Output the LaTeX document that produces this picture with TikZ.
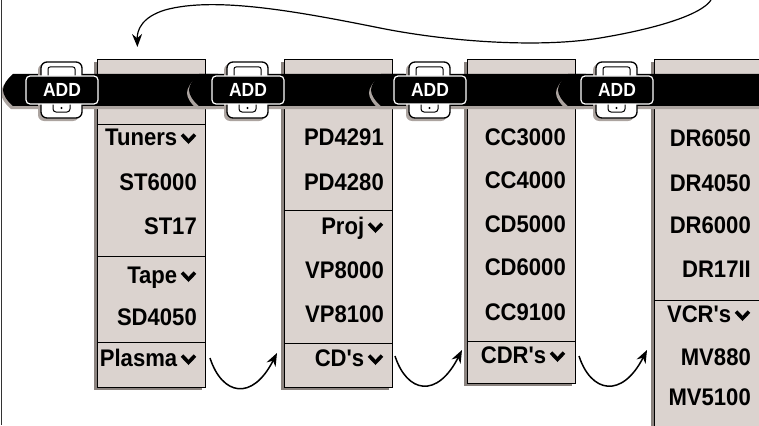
\documentclass[tikz,border=0pt]{standalone}
\usepackage{fontspec}
\newfontfamily\panelfont{Liberation Sans}[FakeStretch=0.92]
\usetikzlibrary{arrows.meta,shadows}
\definecolor{panel-grey}{RGB}{219,211,207}
\definecolor{panel-shadow}{RGB}{138,130,126}
\definecolor{bar-shadow}{RGB}{172,164,160}
\newcommand{\dropmark}{\hspace{3pt}\tikz[baseline=0pt]\draw[line width=3.6pt] (0.8pt,10.4pt) -- (7.3pt,3.6pt) -- (13.8pt,10.4pt);}
\tikzset{
    panel/.style = {draw=black, line width=0.8pt, fill=panel-grey, rectangle, inner sep=0pt, anchor=north west, general shadow={shadow xshift=-3pt, shadow yshift=-2.5pt, fill=panel-shadow}},
    item/.style = {font=\panelfont\bfseries\fontsize{24}{26}\selectfont, anchor=base east, inner sep=0pt},
    divider/.style = {draw=black, line width=1pt},
    add-button/.style = {fill=black, draw=white, line width=1.2pt, rounded corners=4pt, minimum width=72pt, minimum height=28pt, inner sep=0pt, text=white, font=\panelfont\bfseries\fontsize{19}{19}\selectfont},
    flow-arrow/.style = {line width=1.5pt, -{Stealth[length=13pt, width=10pt]}},
    add-tab/.pic = {
        \fill[bar-shadow, shift={(-2,3)}] (10,74) -- (215,74) -- (215,106) -- (10,106) .. controls (4,101) and (0,95) .. (0,90) .. controls (0,85) and (4,79) .. (10,74) -- cycle;
        \fill[black] (10,74) -- (215,74) -- (215,106) -- (10,106) .. controls (4,101) and (0,95) .. (0,90) .. controls (0,85) and (4,79) .. (10,74) -- cycle;
        \fill[bar-shadow, rounded corners=6pt] (35,64) rectangle (76,121);
        \filldraw[fill=white, draw=black, line width=1.3pt, rounded corners=6pt] (38,62) rectangle (79,118);
        \draw[line width=1pt, rounded corners=2pt] (45,67) rectangle (72,78);
        \draw[line width=1pt, rounded corners=3pt] (50,104) -- (50,112) -- (67,112) -- (67,104);
        \fill (58.5,108) circle (1.2pt);
        \node[add-button] (-btn) at (59,90) {ADD};
    },
}

\begin{document}
\begin{tikzpicture}[x=1pt, y=-1pt]
\useasboundingbox (0,0) rectangle (759,425);

\node[panel, minimum width=108pt, minimum height=328pt] (col1) at (97,59) {};
\node[panel, minimum width=108pt, minimum height=328pt] (col2) at (284,59) {};
\node[panel, minimum width=108pt, minimum height=324pt] (col3) at (467,59) {};
\node[panel, minimum width=120pt, minimum height=380pt] (col4) at (654,59) {};

\draw[divider] (97,124) -- (205,124);
\draw[divider] (97,256) -- (205,256);
\draw[divider] (97,342) -- (205,342);
\draw[divider] (284,210) -- (392,210);
\draw[divider] (284,343) -- (392,343);
\draw[divider] (467,341) -- (575,341);
\draw[divider] (654,300) -- (759,300);

\node[item] (tuners) at (197,145) {Tuners\dropmark};
\node[item] (st6000) at (197,190) {ST6000};
\node[item] (st17) at (197,234) {ST17};
\node[item] (tape) at (197,283) {Tape\dropmark};
\node[item] (sd4050) at (197,325) {SD4050};
\node[item] (plasma) at (197,366) {Plasma\dropmark};

\node[item] (pd4291) at (384,145) {PD4291};
\node[item] (pd4280) at (384,190) {PD4280};
\node[item] (proj) at (384,234) {Proj\dropmark};
\node[item] (vp8000) at (384,278) {VP8000};
\node[item] (vp8100) at (384,322) {VP8100};
\node[item] (cds) at (384,366) {CD's\dropmark};

\node[item] (cc3000) at (566,145) {CC3000};
\node[item] (cc4000) at (566,188) {CC4000};
\node[item] (cd5000) at (566,232) {CD5000};
\node[item] (cd6000) at (566,275) {CD6000};
\node[item] (cc9100) at (566,320) {CC9100};
\node[item] (cdrs) at (566,363) {CDR's\dropmark};

\node[item] (dr6050) at (751,146) {DR6050};
\node[item] (dr4050) at (751,191) {DR4050};
\node[item] (dr6000) at (751,233) {DR6000};
\node[item] (dr17ii) at (751,277) {DR17II};
\node[item] (vcrs) at (751,322) {VCR's\dropmark};
\node[item] (mv880) at (751,365) {MV880};
\node[item] (mv5100) at (751,405) {MV5100};

\pic (tab1) at (3,0) {add-tab};
\pic (tab2) at (189,0) {add-tab};
\pic (tab3) at (371,0) {add-tab};
\pic (tab4) at (558,0) {add-tab};

\coordinate (loop-start) at (711,0);
\coordinate (col1-in) at ([shift={(-14,-12)}]col1.north);
\draw[flow-arrow, line width=1.2pt] (loop-start) .. controls (702,14) and (660,28) .. (600,38) .. controls (540,48) and (450,42) .. (380,28) .. controls (300,12) and (215,-4) .. (165,10) .. controls (142,17) and (137,30) .. (col1-in);

\coordinate (plasma-out) at (210,358);
\coordinate (col2-in) at (277,353);
\coordinate (cds-out) at (395,356);
\coordinate (col3-in) at (462,350);
\coordinate (cdrs-out) at (579,356);
\coordinate (col4-in) at (647,350);
\draw[flow-arrow] (plasma-out) .. controls +(12,37) and +(-25,49) .. (col2-in);
\draw[flow-arrow] (cds-out) .. controls +(12,37) and +(-25,49) .. (col3-in);
\draw[flow-arrow] (cdrs-out) .. controls +(12,37) and +(-25,49) .. (col4-in);

\draw[line width=1.4pt, black!80] (1.5,0) -- (1.5,425);
\end{tikzpicture}
\end{document}
